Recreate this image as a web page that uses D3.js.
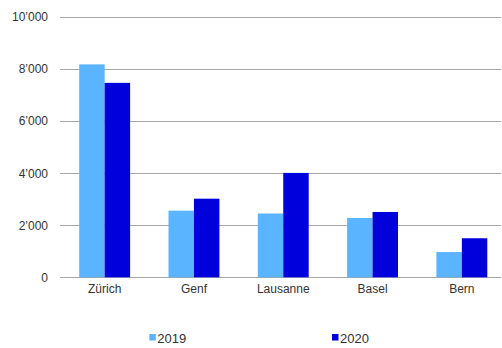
<!DOCTYPE html>
<html>
<head>
<meta charset="utf-8">
<script src="https://cdn.jsdelivr.net/npm/d3@7"></script>
<style>
  html, body { margin: 0; padding: 0; background: #fff; }
  svg { display: block; font-family: "Liberation Sans", Arial, sans-serif; }
</style>
</head>
<body>
<svg id="chart" width="502" height="348"></svg>
<script>
// Cities and yearly figures
const cities = ["Zürich", "Genf", "Lausanne", "Basel", "Bern"];
const years = ["2019", "2020"];
const values2019 = [8180, 2560, 2450, 2280, 970];
const values2020 = [7470, 3020, 4010, 2510, 1500];
const yTicks = [0, 2000, 4000, 6000, 8000, 10000];
const colors = ["#5ab4ff", "#0000dd"];

(function () {
  const rows = cities.map((c, i) => ({ city: c, vals: [values2019[i], values2020[i]] }));

  const svg = d3.select("#chart");
  const plotLeft = 60, plotRight = 501, plotTop = 17, plotBottom = 277.3;

  const x = d3.scaleBand().domain(cities).range([plotLeft, 506.5]).paddingInner(0.43).paddingOuter(0.215);
  const xs = d3.scaleBand().domain(years).range([0, x.bandwidth()]);
  const y = d3.scaleLinear().domain([0, 10000]).range([plotBottom, plotTop]);

  const fmt = v => d3.format(",")(v).replace(/,/g, "’");

  // Horizontal gridlines
  svg.append("g").selectAll("line").data(yTicks).join("line")
    .attr("x1", plotLeft).attr("x2", plotRight)
    .attr("y1", d => Math.round(y(d)) + 0.5).attr("y2", d => Math.round(y(d)) + 0.5)
    .attr("stroke", "#a6a6a6").attr("stroke-width", 1);

  // Y axis tick labels
  const yAxis = d3.axisLeft(y).tickValues(yTicks).tickFormat(fmt).tickSize(0).tickPadding(0);
  const ga = svg.append("g").attr("transform", `translate(${plotLeft - 12},0)`).call(yAxis);
  ga.select(".domain").remove();
  ga.selectAll("text").attr("font-size", 12).attr("fill", "#333").attr("font-family", "Liberation Sans, Arial, sans-serif");

  // Bars
  const groups = svg.append("g").selectAll("g").data(rows).join("g")
    .attr("transform", d => `translate(${x(d.city)},0)`);
  groups.selectAll("rect").data(d => d.vals.map((v, i) => ({ year: years[i], v, i }))).join("rect")
    .attr("x", d => xs(d.year))
    .attr("y", d => y(d.v))
    .attr("width", xs.bandwidth())
    .attr("height", d => y(0) - y(d.v))
    .attr("fill", d => colors[d.i]);

  // Category labels
  const xAxis = d3.axisBottom(x).tickSize(0).tickPadding(0);
  const gx = svg.append("g").attr("transform", `translate(0,${plotBottom + 7.5})`).call(xAxis);
  gx.select(".domain").remove();
  gx.selectAll("text").attr("font-size", 12).attr("fill", "#333").attr("font-family", "Liberation Sans, Arial, sans-serif").attr("dy", "0.71em");

  // Legend
  const legendX = [149.3, 332];
  const lg = svg.append("g").selectAll("g").data(years).join("g")
    .attr("transform", (d, i) => `translate(${legendX[i]},334)`);
  lg.append("rect").attr("width", 6.5).attr("height", 6.5).attr("fill", (d, i) => colors[i]);
  lg.append("text").attr("x", 8).attr("y", 9.3).attr("font-size", 13).attr("fill", "#333").text(d => d);
})();
</script>
</body>
</html>
